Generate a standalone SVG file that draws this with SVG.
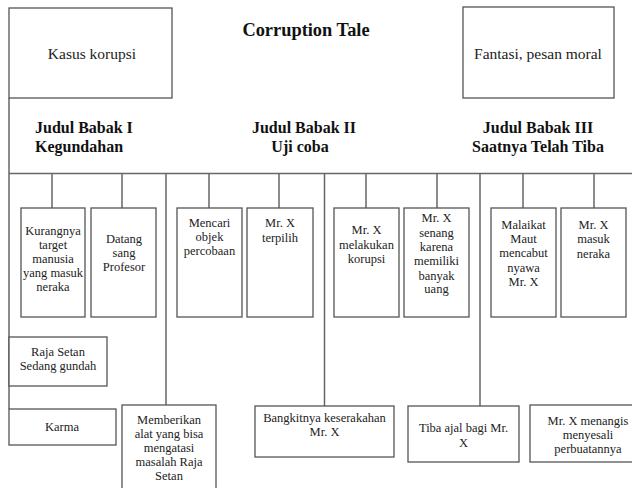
<svg xmlns="http://www.w3.org/2000/svg" width="632" height="488" viewBox="0 0 632 488">
<style>
.box{fill:#fff;stroke:#555;stroke-width:1.3}
.ln{stroke:#666;stroke-width:1.5;fill:none}
.t{font-family:"Liberation Serif","Times New Roman",serif;font-size:12.5px;fill:#222;text-anchor:middle}
.big{font-size:15.5px}
.h{font-family:"Liberation Serif","Times New Roman",serif;font-weight:bold;font-size:16px;fill:#111}
.title{font-family:"Liberation Serif","Times New Roman",serif;font-weight:bold;font-size:18.4px;fill:#111;text-anchor:middle}
</style>
<rect width="632" height="488" fill="#fff"/>
<g id="connectors">
<line class="ln" x1="9" y1="98" x2="9" y2="409"/>
<line class="ln" x1="9" y1="173.5" x2="632" y2="173.5"/>
<line class="ln" x1="52" y1="173.5" x2="52" y2="208"/>
<line class="ln" x1="122" y1="173.5" x2="122" y2="208"/>
<line class="ln" x1="166" y1="173.5" x2="166" y2="405"/>
<line class="ln" x1="209" y1="173.5" x2="209" y2="208"/>
<line class="ln" x1="279" y1="173.5" x2="279" y2="208"/>
<line class="ln" x1="324.5" y1="173.5" x2="324.5" y2="406"/>
<line class="ln" x1="366" y1="173.5" x2="366" y2="208"/>
<line class="ln" x1="437" y1="173.5" x2="437" y2="208"/>
<line class="ln" x1="480" y1="173.5" x2="480" y2="406"/>
<line class="ln" x1="523" y1="173.5" x2="523" y2="208"/>
<line class="ln" x1="594" y1="173.5" x2="594" y2="208"/>
</g>
<g id="title"><text class="title" x="306" y="36">Corruption Tale</text></g>
<g id="kasus"><rect class="box" x="9" y="8" width="163" height="90"/><text class="t big" x="92" y="59">Kasus korupsi</text></g>
<g id="fantasi"><rect class="box" x="463" y="7" width="151" height="91"/><text class="t big" x="538" y="59">Fantasi, pesan moral</text></g>
<g id="babak1"><text class="h" x="35" y="133">Judul Babak I</text><text class="h" x="35" y="152">Kegundahan</text></g>
<g id="babak2"><text class="h" x="304" y="133" text-anchor="middle">Judul Babak II</text><text class="h" x="300" y="152" text-anchor="middle">Uji coba</text></g>
<g id="babak3"><text class="h" x="538" y="133" text-anchor="middle">Judul Babak III</text><text class="h" x="538" y="152" text-anchor="middle">Saatnya Telah Tiba</text></g>
<g id="n1"><rect class="box" x="21" y="208" width="64" height="109"/><text class="t" x="53" y="235">Kurangnya</text><text class="t" x="53" y="249">target</text><text class="t" x="53" y="263">manusia</text><text class="t" x="53" y="277">yang masuk</text><text class="t" x="53" y="291">neraka</text></g>
<g id="n2"><rect class="box" x="91" y="208" width="65" height="109"/><text class="t" x="124" y="243">Datang</text><text class="t" x="124" y="257">sang</text><text class="t" x="124" y="271">Profesor</text></g>
<g id="n3"><rect class="box" x="177" y="208" width="65" height="109"/><text class="t" x="209.5" y="227">Mencari</text><text class="t" x="209.5" y="241">objek</text><text class="t" x="209.5" y="255">percobaan</text></g>
<g id="n4"><rect class="box" x="247" y="208" width="66" height="109"/><text class="t" x="280" y="227">Mr. X</text><text class="t" x="280" y="242">terpilih</text></g>
<g id="n5"><rect class="box" x="334" y="208" width="65" height="109"/><text class="t" x="366.5" y="234">Mr. X</text><text class="t" x="366.5" y="249">melakukan</text><text class="t" x="366.5" y="263">korupsi</text></g>
<g id="n6"><rect class="box" x="404" y="208" width="65" height="109"/><text class="t" x="436.5" y="222">Mr. X</text><text class="t" x="436.5" y="237">senang</text><text class="t" x="436.5" y="251">karena</text><text class="t" x="436.5" y="265">memiliki</text><text class="t" x="436.5" y="280">banyak</text><text class="t" x="436.5" y="293">uang</text></g>
<g id="n7"><rect class="box" x="491" y="208" width="65" height="109"/><text class="t" x="523.5" y="229">Malaikat</text><text class="t" x="523.5" y="243">Maut</text><text class="t" x="523.5" y="257">mencabut</text><text class="t" x="523.5" y="272">nyawa</text><text class="t" x="523.5" y="286">Mr. X</text></g>
<g id="n8"><rect class="box" x="561" y="208" width="65" height="109"/><text class="t" x="593.5" y="229">Mr. X</text><text class="t" x="593.5" y="243">masuk</text><text class="t" x="593.5" y="258">neraka</text></g>
<g id="raja"><rect class="box" x="9" y="337" width="98" height="49"/><text class="t" x="58" y="356">Raja Setan</text><text class="t" x="58" y="370">Sedang gundah</text></g>
<g id="karma"><rect class="box" x="9" y="409" width="107" height="36"/><text class="t" x="62" y="431">Karma</text></g>
<g id="memberikan"><rect class="box" x="122" y="405" width="94" height="90"/><text class="t" x="169" y="424">Memberikan</text><text class="t" x="169" y="438">alat yang bisa</text><text class="t" x="169" y="452">mengatasi</text><text class="t" x="169" y="466">masalah Raja</text><text class="t" x="169" y="480">Setan</text></g>
<g id="bangkit"><rect class="box" x="255" y="406" width="139" height="51"/><text class="t" x="324.5" y="422">Bangkitnya keserakahan</text><text class="t" x="324.5" y="436">Mr. X</text></g>
<g id="tiba"><rect class="box" x="408" y="406" width="111" height="56"/><text class="t" x="463.5" y="432">Tiba ajal bagi Mr.</text><text class="t" x="463.5" y="447">X</text></g>
<g id="menangis"><rect class="box" x="530" y="405" width="116" height="57"/><text class="t" x="588" y="425">Mr. X menangis</text><text class="t" x="588" y="439">menyesali</text><text class="t" x="588" y="453">perbuatannya</text></g>
</svg>
